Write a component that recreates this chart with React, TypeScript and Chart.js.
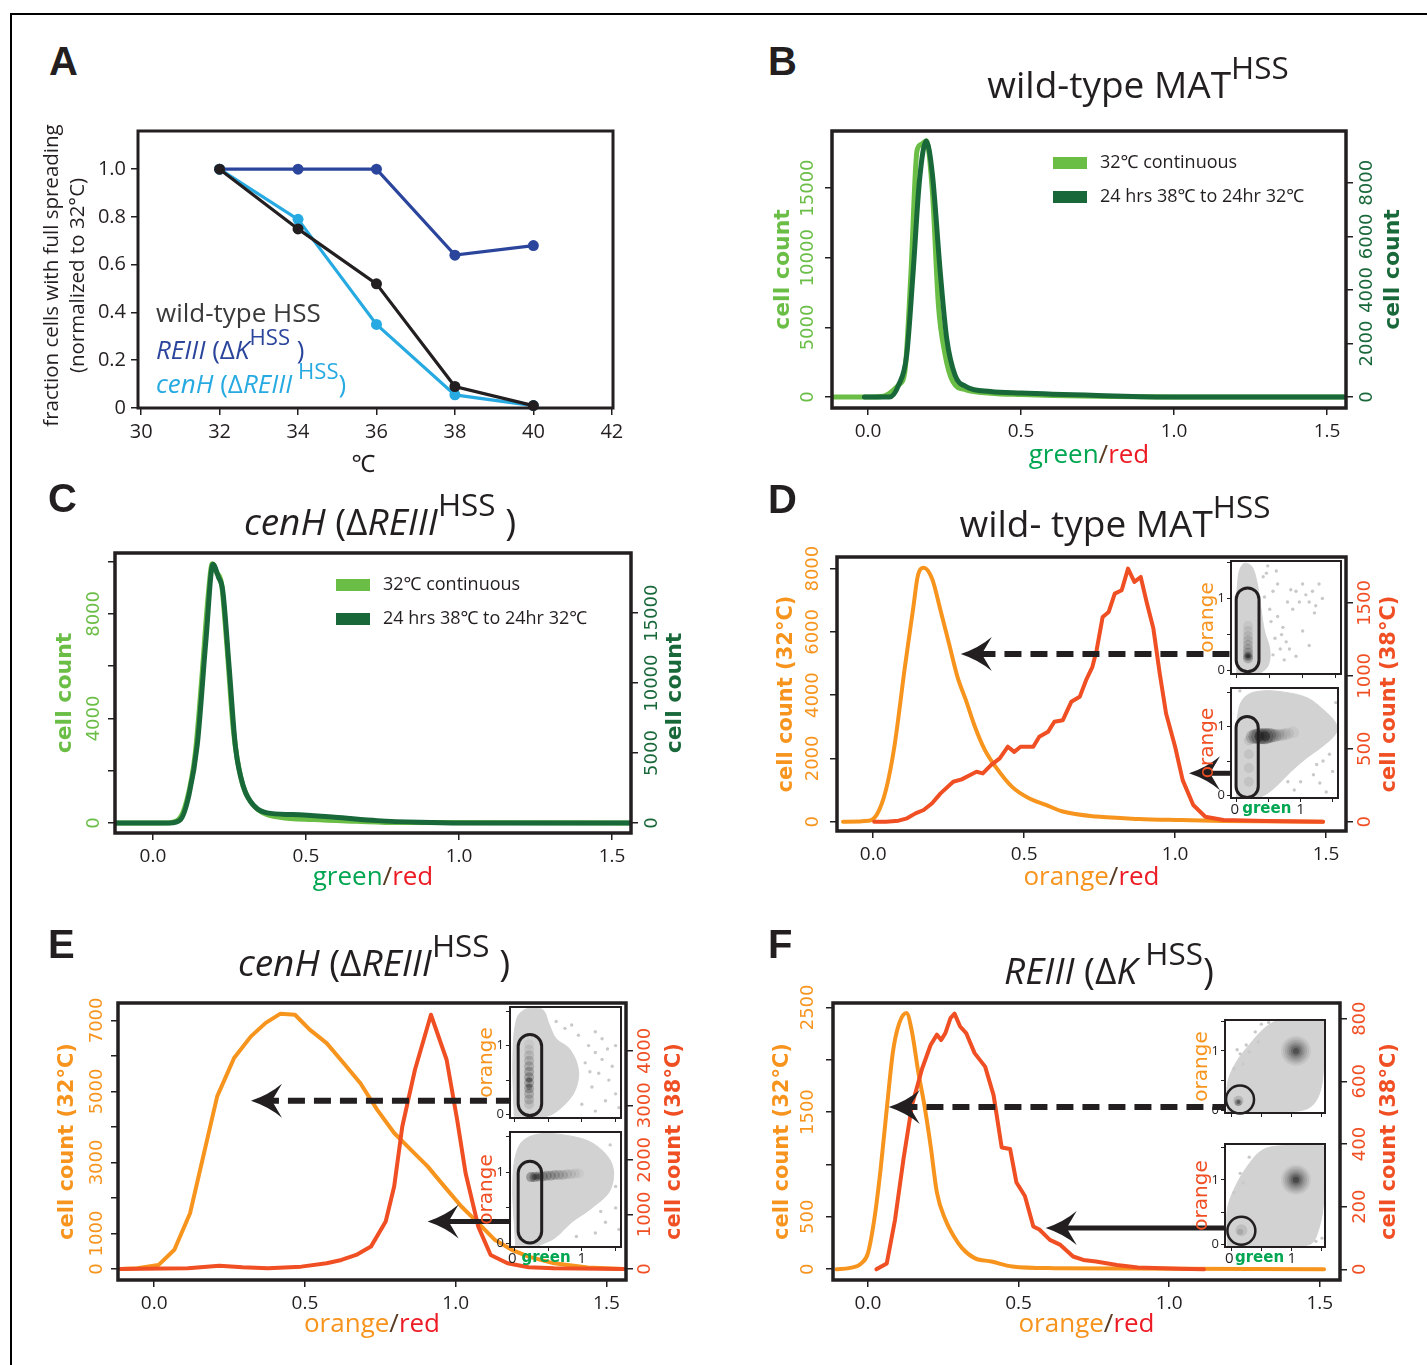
import React, { useEffect, useRef } from 'react';
import { Chart, registerables } from 'chart.js';

Chart.register(...registerables);

// ---------------- colours & fonts ----------------
const INK = '#231f20';
const LIGHT_GREEN = '#6abd45';
const DARK_GREEN = '#19683a';
const ORANGE = '#f7941d';
const RED_ORANGE = '#f04e23';
const TEXT_GREEN = '#00a651';
const TEXT_RED = '#ed1c24';
const A_BLUE = '#2b459c';
const A_CYAN = '#27aae1';
const CLOUD = '#d2d2d2';
const CLOUD_DOT = '#c9c9c9';
const SANS = '"Open Sans", "Noto Sans", sans-serif';
const WIDE = '"DejaVu Sans", sans-serif';

// ---------------- Panel A data ----------------
const A_TEMPS = [32, 34, 36, 38, 40];
const A_WILDTYPE = [1.0, 0.75, 0.52, 0.09, 0.01];
const A_REIII = [1.0, 1.0, 1.0, 0.64, 0.68];
const A_CENH = [1.0, 0.79, 0.35, 0.055, 0.01];
const A_X_TICKS = [30, 32, 34, 36, 38, 40, 42];
const A_X_LABELS = ['30', '32', '34', '36', '38', '40', '42'];
const A_Y_TICKS = [0, 0.2, 0.4, 0.6, 0.8, 1.0];
const A_Y_LABELS = ['0', '0.2', '0.4', '0.6', '0.8', '1.0'];

// ---------------- shared ratio axis ----------------
const RATIO_TICKS = [0, 0.5, 1.0, 1.5];
const RATIO_LABELS = ['0.0', '0.5', '1.0', '1.5'];

// ---------------- Panel B data ----------------
const B_LIGHT_X = [-0.118, 0.0, 0.05, 0.07, 0.1, 0.12, 0.14, 0.16, 0.175, 0.19, 0.21, 0.23, 0.25, 0.277, 0.32, 0.4, 0.5, 0.6, 0.8, 1.0, 1.562];
const B_LIGHT_Y = [0, 0, 60, 280, 875, 1820, 8900, 17700, 18150, 18400, 14800, 6550, 3240, 1110, 520, 280, 180, 120, 40, 0, 0];
const B_DARK_X = [-0.012, 0.07, 0.1, 0.126, 0.147, 0.168, 0.19, 0.21, 0.236, 0.257, 0.284, 0.32, 0.4, 0.5, 0.75, 1.0, 1.562];
const B_DARK_Y = [0, 0, 455, 1560, 4640, 8090, 9560, 8330, 4640, 2180, 825, 395, 210, 150, 60, 0, 0];
const B_LEFT_TICKS = [0, 5000, 10000, 15000];
const B_LEFT_LABELS = ['0', '5000', '10000', '15000'];
const B_RIGHT_TICKS = [0, 2000, 4000, 6000, 8000];
const B_RIGHT_LABELS = ['0', '2000', '4000', '6000', '8000'];

// ---------------- Panel C data ----------------
const C_LIGHT_X = [-0.124, 0.041, 0.083, 0.11, 0.138, 0.159, 0.18, 0.194, 0.207, 0.224, 0.242, 0.263, 0.29, 0.318, 0.36, 0.415, 0.525, 0.664, 0.8, 1.562];
const C_LIGHT_Y = [0, 0, 128, 832, 2624, 5440, 8640, 9920, 9600, 9150, 6720, 3520, 1600, 832, 384, 218, 128, 64, 13, 0];
const C_DARK_X = [-0.124, 0.055, 0.09, 0.118, 0.145, 0.173, 0.196, 0.214, 0.228, 0.249, 0.27, 0.297, 0.332, 0.373, 0.456, 0.594, 0.733, 0.871, 1.01, 1.562];
const C_DARK_Y = [0, 0, 240, 2033, 5622, 13038, 18493, 17584, 16627, 11124, 5383, 2512, 1196, 718, 598, 407, 167, 48, 0, 0];
const C_LEFT_TICKS = [0, 2000, 4000, 6000, 8000, 10000];
const C_LEFT_LABEL_VALUES = [0, 4000, 8000];
const C_LEFT_LABELS = ['0', '4000', '8000'];
const C_RIGHT_TICKS = [0, 5000, 10000, 15000];
const C_RIGHT_LABELS = ['0', '5000', '10000', '15000'];

// ---------------- Panel D data ----------------
const D_ORANGE_X = [-0.1, -0.014, 0.014, 0.042, 0.07, 0.105, 0.133, 0.147, 0.167, 0.195, 0.223, 0.251, 0.279, 0.307, 0.335, 0.37, 0.405, 0.46, 0.516, 0.572, 0.628, 0.74, 0.88, 1.02, 1.16, 1.49];
const D_ORANGE_Y = [0, 30, 260, 1000, 2370, 4900, 6790, 7740, 8030, 7680, 6680, 5630, 4580, 3840, 3050, 2260, 1740, 1100, 740, 530, 320, 160, 85, 50, 20, 0];
const D_RED_X = [0.003, 0.042, 0.084, 0.112, 0.14, 0.167, 0.195, 0.223, 0.265, 0.293, 0.321, 0.342, 0.363, 0.39, 0.419, 0.446, 0.467, 0.488, 0.53, 0.55, 0.579, 0.6, 0.628, 0.656, 0.684, 0.705, 0.726, 0.74, 0.76, 0.78, 0.8, 0.823, 0.844, 0.865, 0.886, 0.907, 0.928, 0.949, 0.97, 1.0, 1.025, 1.06, 1.1, 1.16, 1.3, 1.49];
const D_RED_Y = [0, 0, 7, 23, 57, 80, 126, 194, 274, 290, 320, 342, 331, 388, 434, 514, 479, 514, 514, 582, 616, 685, 696, 822, 856, 970, 1062, 1176, 1404, 1438, 1564, 1587, 1735, 1644, 1678, 1495, 1324, 1016, 742, 514, 285, 114, 34, 11, 5, 0];
const D_LEFT_TICKS = [0, 2000, 4000, 6000, 8000];
const D_LEFT_LABELS = ['0', '2000', '4000', '6000', '8000'];
const D_RIGHT_TICKS = [0, 500, 1000, 1500];
const D_RIGHT_LABELS = ['0', '500', '1000', '1500'];

// ---------------- Panel E data ----------------
const E_ORANGE_X = [-0.112, -0.056, 0.014, 0.067, 0.119, 0.16, 0.209, 0.265, 0.321, 0.37, 0.419, 0.467, 0.516, 0.572, 0.628, 0.684, 0.74, 0.796, 0.851, 0.907, 0.963, 1.019, 1.075, 1.13, 1.186, 1.242, 1.326, 1.438, 1.556];
const E_ORANGE_Y = [0, 20, 110, 540, 1570, 3070, 4860, 5940, 6550, 6930, 7190, 7160, 6740, 6360, 5800, 5230, 4480, 3830, 3360, 2890, 2320, 1760, 1290, 820, 540, 350, 160, 40, 0];
const E_RED_X = [-0.112, 0.112, 0.216, 0.293, 0.377, 0.488, 0.572, 0.621, 0.67, 0.719, 0.768, 0.796, 0.823, 0.865, 0.918, 0.97, 1.005, 1.033, 1.075, 1.116, 1.172, 1.242, 1.326, 1.556];
const E_RED_Y = [0, 12, 61, 31, 12, 43, 104, 165, 257, 410, 869, 1511, 2612, 3651, 4660, 3835, 2734, 1755, 777, 257, 104, 31, 12, 0];
const E_LEFT_TICKS = [0, 1000, 2000, 3000, 4000, 5000, 6000, 7000];
const E_LEFT_LABEL_VALUES = [0, 1000, 3000, 5000, 7000];
const E_LEFT_LABELS = ['0', '1000', '3000', '5000', '7000'];
const E_RIGHT_TICKS = [0, 1000, 2000, 3000, 4000];
const E_RIGHT_LABELS = ['0', '1000', '2000', '3000', '4000'];

// ---------------- Panel F data ----------------
const F_ORANGE_X = [-0.104, -0.0625, -0.021, 0.0, 0.021, 0.042, 0.0625, 0.083, 0.104, 0.128, 0.146, 0.167, 0.1875, 0.208, 0.229, 0.257, 0.285, 0.3125, 0.354, 0.41, 0.479, 0.618, 1.514];
const F_ORANGE_Y = [0, 10, 58, 154, 474, 955, 1532, 2077, 2349, 2446, 2269, 1885, 1564, 1179, 731, 474, 314, 202, 106, 74, 26, 10, 0];
const F_RED_X = [0.028, 0.0625, 0.09, 0.118, 0.146, 0.18, 0.208, 0.229, 0.243, 0.257, 0.274, 0.2875, 0.306, 0.326, 0.354, 0.389, 0.417, 0.444, 0.472, 0.493, 0.521, 0.549, 0.569, 0.604, 0.639, 0.681, 0.715, 0.757, 0.826, 0.896, 1.035, 1.115];
const F_RED_Y = [0, 19, 159, 352, 523, 641, 716, 749, 732, 754, 802, 816, 775, 754, 690, 647, 556, 389, 384, 277, 234, 137, 127, 94, 78, 41, 30, 25, 14, 6, 2, 0];
const F_LEFT_TICKS = [0, 500, 1000, 1500, 2000, 2500];
const F_LEFT_LABEL_VALUES = [0, 500, 1500, 2500];
const F_LEFT_LABELS = ['0', '500', '1500', '2500'];
const F_RIGHT_TICKS = [0, 200, 400, 600, 800];
const F_RIGHT_LABELS = ['0', '200', '400', '600', '800'];

// ---------------- inset (green vs orange) data ----------------
const INSET_TICKS = [0, 0.5, 1, 1.5];

const D_UP_CLOUD_X = [0.0, -0.01, 0.02, 0.1, 0.22, 0.3, 0.36, 0.42, 0.5, 0.48, 0.35, 0.15];
const D_UP_CLOUD_Y = [-0.03, 0.6, 1.3, 1.48, 1.45, 1.25, 0.9, 0.55, 0.3, 0.08, -0.03, -0.04];
const D_UP_DOT_X = [0.45, 0.6, 0.55, 0.42, 0.5, 0.62, 0.7, 0.58, 0.75, 0.66, 0.8, 0.55, 0.9, 1.0, 0.85, 0.95, 1.05, 1.1, 1.15, 1.2, 1.25, 1.0, 0.9, 1.3, 0.72, 0.68, 1.1, 0.62, 0.52, 0.82, 0.4, 0.47, 0.77, 1.18];
const D_UP_DOT_Y = [1.35, 1.38, 1.1, 1.02, 0.85, 0.75, 0.6, 0.45, 0.4, 0.3, 0.3, 0.22, 0.2, 0.55, 0.85, 0.95, 1.05, 0.95, 1.1, 0.9, 1.2, 1.2, 1.1, 1.0, 0.15, 0.5, 0.35, 1.2, 0.68, 1.12, 1.3, 1.45, 0.95, 0.8];
const D_UP_CORE_X = [0.17, 0.17, 0.17, 0.17, 0.17, 0.17, 0.17, 0.17, 0.17, 0.17, 0.17];
const D_UP_CORE_Y = [0.62, 0.55, 0.48, 0.42, 0.36, 0.3, 0.25, 0.2, 0.17, 0.2, 0.2];
const D_UP_CORE_R = [5, 5, 5, 5, 5, 5, 5, 5, 5, 3.5, 2];
const D_UP_CORE_A = [0.06, 0.08, 0.1, 0.12, 0.14, 0.16, 0.2, 0.22, 0.2, 0.35, 0.5];

const D_LO_CLOUD_X = [0.0, -0.02, 0.03, 0.15, 0.4, 0.75, 1.1, 1.35, 1.55, 1.55, 1.35, 1.1, 0.85, 0.6, 0.4, 0.2];
const D_LO_CLOUD_Y = [-0.03, 0.6, 1.25, 1.45, 1.52, 1.5, 1.42, 1.25, 1.05, 0.9, 0.72, 0.55, 0.35, 0.12, -0.01, -0.03];
const D_LO_DOT_X = [1.0, 1.2, 1.3, 1.45, 1.5, 1.4, 0.9, 1.55, 0.05, 1.25, 1.35, 0.8];
const D_LO_DOT_Y = [0.2, 0.3, 0.18, 0.6, 0.35, 0.05, 0.08, 1.35, 1.52, 0.45, 0.5, 0.2];
const D_LO_CORE_X = [0.25, 0.3, 0.35, 0.4, 0.45, 0.5, 0.55, 0.6, 0.65, 0.7, 0.75, 0.8, 0.88, 0.36, 0.44, 0.19, 0.19, 0.19, 0.19];
const D_LO_CORE_Y = [0.85, 0.86, 0.86, 0.86, 0.86, 0.87, 0.87, 0.87, 0.88, 0.88, 0.89, 0.9, 0.92, 0.86, 0.86, 0.2, 0.4, 0.6, 0.8];
const D_LO_CORE_R = [7, 7.5, 8, 8, 8, 7.5, 7, 6.5, 6, 6, 6, 6, 6, 5, 5, 5, 5, 5, 5];
const D_LO_CORE_A = [0.18, 0.24, 0.26, 0.28, 0.28, 0.24, 0.18, 0.14, 0.11, 0.09, 0.07, 0.06, 0.05, 0.35, 0.35, 0.08, 0.08, 0.08, 0.08];

const E_UP_CLOUD_X = [0.0, -0.02, 0.04, 0.2, 0.42, 0.52, 0.62, 0.82, 0.95, 0.9, 0.72, 0.5, 0.2];
const E_UP_CLOUD_Y = [-0.03, 0.8, 1.4, 1.54, 1.52, 1.3, 1.1, 0.95, 0.65, 0.35, 0.12, -0.02, -0.04];
const E_UP_DOT_X = [1.1, 1.2, 1.3, 1.25, 1.4, 1.5, 1.55, 1.35, 1.15, 1.05, 1.3, 1.2, 0.95, 1.45, 1.0, 1.2, 0.62, 0.75, 1.12, 1.38, 0.85, 1.5];
const E_UP_DOT_Y = [1.0, 0.9, 0.8, 0.6, 0.5, 0.3, 0.1, 0.2, 0.4, 0.75, 1.1, 1.2, 1.15, 0.7, 0.15, 0.05, 1.35, 1.25, 0.62, 0.95, 1.3, 1.0];
const E_UP_CORE_X = [0.22, 0.22, 0.22, 0.22, 0.22, 0.22, 0.22, 0.22, 0.22, 0.22, 0.22, 0.22, 0.22, 0.22];
const E_UP_CORE_Y = [0.15, 0.22, 0.3, 0.38, 0.46, 0.54, 0.62, 0.7, 0.78, 0.86, 0.94, 1.02, 0.4, 0.5];
const E_UP_CORE_R = [5, 5, 5, 5, 5, 5, 5, 5, 5, 5, 5, 5, 3, 3];
const E_UP_CORE_A = [0.1, 0.16, 0.2, 0.24, 0.26, 0.26, 0.24, 0.2, 0.16, 0.12, 0.08, 0.05, 0.3, 0.3];

const E_LO_CLOUD_X = [0.02, -0.02, 0.08, 0.35, 0.85, 1.2, 1.45, 1.42, 1.15, 0.85, 0.6, 0.35];
const E_LO_CLOUD_Y = [-0.03, 0.9, 1.38, 1.53, 1.5, 1.38, 1.1, 0.75, 0.5, 0.3, 0.08, -0.03];
const E_LO_DOT_X = [1.5, 1.55, 1.35, 1.2, 0.92, 1.42, 1.5, 1.28];
const E_LO_DOT_Y = [0.5, 0.2, 0.3, 0.15, 0.1, 1.38, 0.8, 0.45];
const E_LO_CORE_X = [0.25, 0.3, 0.36, 0.42, 0.48, 0.54, 0.6, 0.66, 0.72, 0.78, 0.84, 0.9, 0.96, 0.3, 0.36];
const E_LO_CORE_Y = [0.93, 0.93, 0.94, 0.94, 0.95, 0.95, 0.96, 0.96, 0.96, 0.97, 0.97, 0.98, 0.98, 0.93, 0.94];
const E_LO_CORE_R = [5, 5, 5, 5, 5, 5, 5, 5, 5, 5, 5, 5, 5, 3, 3];
const E_LO_CORE_A = [0.3, 0.3, 0.28, 0.26, 0.24, 0.22, 0.2, 0.17, 0.14, 0.11, 0.08, 0.06, 0.04, 0.35, 0.3];

const F_UP_CLOUD_X = [-0.06, -0.06, 0.08, 0.3, 0.55, 0.78, 1.0, 1.53, 1.53, 1.48, 1.3, 0.9, 0.4];
const F_UP_CLOUD_Y = [-0.03, 0.45, 0.8, 1.1, 1.38, 1.52, 1.53, 1.5, 0.9, 0.35, 0.05, -0.03, -0.04];
const F_UP_DOT_X = [0.05, 0.15, 0.25, 0.4, 0.5, 0.2, 0.1, 0.3, 0.45, 0.62];
const F_UP_DOT_Y = [0.7, 0.95, 1.1, 1.32, 1.45, 0.78, 1.02, 0.98, 1.15, 1.48];
const F_UP_CORE_X = [1.07, 1.07, 1.07, 1.07, 1.07, 1.07, 1.07, 0.12, 0.12, 0.12];
const F_UP_CORE_Y = [1.0, 1.0, 1.0, 1.0, 1.0, 1.0, 1.0, 0.16, 0.13, 0.14];
const F_UP_CORE_R = [15, 13, 11, 9, 7, 5, 3, 5, 3.5, 2];
const F_UP_CORE_A = [0.06, 0.08, 0.1, 0.12, 0.15, 0.2, 0.3, 0.15, 0.25, 0.4];

const F_LO_CLOUD_X = [-0.06, -0.06, 0.1, 0.3, 0.5, 0.75, 1.53, 1.53, 1.45, 1.3, 0.8, 0.3];
const F_LO_CLOUD_Y = [-0.03, 0.55, 0.95, 1.25, 1.45, 1.52, 1.52, 0.7, 0.25, 0.0, -0.03, -0.04];
const F_LO_DOT_X = [0.05, 0.15, 0.2, 0.3, 1.5, 1.4];
const F_LO_DOT_Y = [0.8, 1.1, 0.95, 1.35, 0.1, 0.05];
const F_LO_CORE_X = [1.07, 1.07, 1.07, 1.07, 1.07, 1.07, 1.07, 0.17, 0.15];
const F_LO_CORE_Y = [1.0, 1.0, 1.0, 1.0, 1.0, 1.0, 1.0, 0.22, 0.2];
const F_LO_CORE_R = [15, 13, 11, 9, 7, 5, 3, 6, 3];
const F_LO_CORE_A = [0.06, 0.09, 0.11, 0.13, 0.17, 0.22, 0.35, 0.1, 0.12];

// ---------------- helpers ----------------
const pts = (xs: number[], ys: number[]) => xs.map((x, i) => ({ x, y: ys[i] }));

function drawParts(ctx: any, parts: any[], x: number, y: number, font: string, angle: number, align: string) {
  ctx.save();
  ctx.translate(x, y);
  if (angle) ctx.rotate(angle);
  ctx.font = font;
  ctx.textBaseline = 'middle';
  ctx.textAlign = 'left';
  let total = 0;
  for (const p of parts) total += ctx.measureText(p.t).width;
  let cx = align === 'center' ? -total / 2 : align === 'right' ? -total : 0;
  for (const p of parts) {
    ctx.fillStyle = p.c;
    ctx.fillText(p.t, cx, 0);
    cx += ctx.measureText(p.t).width;
  }
  ctx.restore();
}

function makeDecor(spec: any) {
  return {
    id: 'decor',
    beforeDraw(chart: any) {
      if (!spec.bg) return;
      const { ctx, chartArea: a } = chart;
      ctx.save();
      ctx.fillStyle = spec.bg;
      ctx.fillRect(a.left, a.top, a.right - a.left, a.bottom - a.top);
      ctx.restore();
    },
    afterDatasetsDraw(chart: any) {
      const { ctx, scales } = chart;
      ctx.save();
      for (const g of spec.gates || []) {
        const sx = scales.x, sy = scales.y;
        ctx.strokeStyle = INK;
        ctx.lineWidth = g.w;
        ctx.beginPath();
        if (g.kind === 'pill') {
          const x0 = sx.getPixelForValue(g.x0), x1 = sx.getPixelForValue(g.x1);
          const yt = sy.getPixelForValue(g.y1), yb = sy.getPixelForValue(g.y0);
          ctx.roundRect(x0, yt, x1 - x0, yb - yt, (x1 - x0) / 2);
        } else {
          ctx.arc(sx.getPixelForValue(g.cx), sy.getPixelForValue(g.cy), g.r, 0, Math.PI * 2);
        }
        ctx.stroke();
      }
      for (const ar of spec.arrows || []) {
        const xs = scales.x.getPixelForValue(ar.x0);
        const xt = scales.x.getPixelForValue(ar.x1);
        const y = scales.yL.getPixelForValue(ar.y);
        ctx.strokeStyle = INK;
        ctx.fillStyle = INK;
        ctx.lineWidth = ar.w;
        ctx.setLineDash(ar.dashed ? [17, 9] : []);
        ctx.beginPath();
        ctx.moveTo(xs, y);
        ctx.lineTo(xt + 20, y);
        ctx.stroke();
        ctx.setLineDash([]);
        ctx.beginPath();
        ctx.moveTo(xt, y);
        ctx.quadraticCurveTo(xt + 18, y - 6, xt + 31, y - 17);
        ctx.lineTo(xt + 21, y);
        ctx.lineTo(xt + 31, y + 17);
        ctx.quadraticCurveTo(xt + 18, y + 6, xt, y);
        ctx.closePath();
        ctx.fill();
      }
      ctx.restore();
    },
    afterDraw(chart: any) {
      const { ctx, chartArea: a, scales } = chart;
      if (spec.frame) {
        ctx.save();
        ctx.strokeStyle = INK;
        ctx.lineWidth = spec.frame;
        ctx.strokeRect(a.left, a.top, a.right - a.left, a.bottom - a.top);
        ctx.restore();
      }
      for (const l of spec.yLabels || []) {
        const s = scales[l.axis];
        l.values.forEach((v: number, i: number) => {
          const y = s.getPixelForValue(v);
          const x = l.side === 'left' ? a.left - l.off : a.right + l.off;
          drawParts(ctx, [{ t: l.labels[i], c: l.color }], x, y, l.font, l.rot ? -Math.PI / 2 : 0, l.rot ? 'center' : l.align || 'right');
        });
      }
      for (const l of spec.xLabels || []) {
        const x = scales.x.getPixelForValue(l.v);
        drawParts(ctx, [{ t: l.t, c: l.c }], x, a.bottom + l.off, l.font, 0, 'center');
      }
      for (const t of spec.titles || []) {
        let x = 0, y = 0, ang = 0;
        if (t.side === 'left') { x = a.left - t.off; y = (a.top + a.bottom) / 2 + (t.dy || 0); ang = -Math.PI / 2; }
        else if (t.side === 'right') { x = a.right + t.off; y = (a.top + a.bottom) / 2 + (t.dy || 0); ang = -Math.PI / 2; }
        else { x = (a.left + a.right) / 2 + (t.dx || 0); y = a.bottom + t.off; }
        drawParts(ctx, t.parts, x, y, t.font, ang, 'center');
      }
      if (spec.legend) {
        const L = spec.legend;
        L.rows.forEach((r: any, i: number) => {
          const y = a.top + L.dy + i * L.gap;
          ctx.save();
          ctx.fillStyle = r.color;
          ctx.fillRect(a.left + L.dx, y - L.h / 2, L.w, L.h);
          ctx.restore();
          drawParts(ctx, [{ t: r.label, c: INK }], a.left + L.dx + L.w + L.tx, y, L.font, 0, 'left');
        });
      }
    },
  };
}

function tickAxis(pos: string, min: number, max: number, ticks: number[], size: number, tl: number, lw: number, extra: any = {}) {
  const horiz = pos === 'bottom';
  return {
    type: 'linear',
    position: pos,
    min,
    max,
    afterBuildTicks: (s: any) => { s.ticks = ticks.map((v) => ({ value: v })); },
    afterFit: (s: any) => { if (horiz) s.height = size; else s.width = size; },
    ticks: { display: false },
    grid: { drawOnChartArea: false, drawTicks: true, tickLength: tl, color: INK, lineWidth: lw },
    border: { display: false },
    ...extra,
  };
}

function tickLabelOpts(ticks: number[], labels: string[], size: number, pad: number) {
  return {
    display: true,
    autoSkip: false,
    maxRotation: 0,
    minRotation: 0,
    padding: pad,
    color: INK,
    font: { family: 'Open Sans', size },
    callback: (v: number) => {
      const i = ticks.indexOf(v);
      return i >= 0 ? labels[i] : '';
    },
  };
}

// ---------------- component that hosts one chart ----------------
function ChartCanvas({ left, top, width, height, make }: any) {
  const ref = useRef<HTMLCanvasElement | null>(null);
  useEffect(() => {
    const chart = new Chart(ref.current as any, make());
    return () => chart.destroy();
  }, []);
  return <canvas ref={ref} width={width} height={height} style={{ position: 'absolute', left, top, width, height }} />;
}

// ---------------- Panel A ----------------
const A_BOX = { l: 138, t: 131, r: 613, b: 408 };
const A_PAD = { L: 110, R: 20, T: 30, B: 70 };

function makeA() {
  const ds = (label: string, ys: number[], color: string) => ({
    label,
    data: pts(A_TEMPS, ys),
    borderColor: color,
    backgroundColor: color,
    pointBackgroundColor: color,
    pointBorderColor: color,
    pointRadius: 5.5,
    pointBorderWidth: 0,
    borderWidth: 3.2,
    tension: 0,
    clip: false,
  });
  return {
    type: 'line',
    data: {
      datasets: [ds('wild-type HSS', A_WILDTYPE, INK), ds('cenH', A_CENH, A_CYAN), ds('REIII', A_REIII, A_BLUE)],
    },
    options: {
      responsive: false,
      animation: false,
      devicePixelRatio: 1,
      layout: { padding: { top: A_PAD.T, left: 0, right: A_PAD.R, bottom: 0 } },
      plugins: { legend: { display: false }, tooltip: { enabled: false } },
      scales: {
        x: tickAxis('bottom', 29.92, 42.03, A_X_TICKS, A_PAD.B, 7, 1.5, { ticks: tickLabelOpts(A_X_TICKS, A_X_LABELS, 20, 5) }),
        y: tickAxis('left', 0, 1.16, A_Y_TICKS, A_PAD.L, 7, 1.5, { ticks: tickLabelOpts(A_Y_TICKS, A_Y_LABELS, 20, 5) }),
      },
    },
    plugins: [
      makeDecor({
        frame: 3,
        titles: [
          { side: 'left', off: 86, dy: 6, font: `20.5px ${SANS}`, parts: [{ t: 'fraction cells with full spreading', c: INK }] },
          { side: 'left', off: 60, dy: 6, font: `20.5px ${SANS}`, parts: [{ t: '(normalized to 32°C)', c: INK }] },
          { side: 'bottom', off: 57, dx: -12, font: `24px ${SANS}`, parts: [{ t: '℃', c: INK }] },
        ],
      }),
    ],
  };
}

// ---------------- histogram panels ----------------
const HIST_PAD = { L: 110, R: 90, T: 40, B: 70 };

const greenRed = [{ t: 'green', c: TEXT_GREEN }, { t: '/', c: '#5a3b22' }, { t: 'red', c: TEXT_RED }];
const orangeRed = [{ t: 'orange', c: ORANGE }, { t: '/', c: '#5a3b22' }, { t: 'red', c: TEXT_RED }];

const PANEL_B = {
  box: { l: 832, t: 131, r: 1346, b: 408 },
  x: [-0.118, 1.562],
  left: { min: -781, max: 19096, ticks: B_LEFT_TICKS, labelValues: B_LEFT_TICKS, labels: B_LEFT_LABELS, color: LIGHT_GREEN, title: 'cell count', labelOff: 24, titleOff: 49 },
  right: { min: -406, max: 9932, ticks: B_RIGHT_TICKS, labelValues: B_RIGHT_TICKS, labels: B_RIGHT_LABELS, color: DARK_GREEN, title: 'cell count', labelOff: 21, titleOff: 47 },
  titleFont: `bold 22px ${WIDE}`,
  series: [
    { xs: B_DARK_X, ys: B_DARK_Y, axis: 'yR', color: DARK_GREEN, width: 5, smooth: true },
    { xs: B_LIGHT_X, ys: B_LIGHT_Y, axis: 'yL', color: LIGHT_GREEN, width: 5, smooth: true },
  ],
  xTitle: greenRed,
  xTitleOff: 48,
  legend: true,
  arrows: [],
};

const PANEL_C = {
  box: { l: 115, t: 553, r: 631, b: 833 },
  x: [-0.124, 1.562],
  left: { min: -384, max: 10330, ticks: C_LEFT_TICKS, labelValues: C_LEFT_LABEL_VALUES, labels: C_LEFT_LABELS, color: LIGHT_GREEN, title: 'cell count', labelOff: 21, titleOff: 50 },
  right: { min: -718, max: 19306, ticks: C_RIGHT_TICKS, labelValues: C_RIGHT_TICKS, labels: C_RIGHT_LABELS, color: DARK_GREEN, title: 'cell count', labelOff: 21, titleOff: 44 },
  titleFont: `bold 22px ${WIDE}`,
  series: [
    { xs: C_DARK_X, ys: C_DARK_Y, axis: 'yR', color: DARK_GREEN, width: 5, smooth: true },
    { xs: C_LIGHT_X, ys: C_LIGHT_Y, axis: 'yL', color: LIGHT_GREEN, width: 5, smooth: true },
  ],
  xTitle: greenRed,
  xTitleOff: 45,
  legend: true,
  arrows: [],
};

const PANEL_D = {
  box: { l: 837, t: 557, r: 1346, b: 831 },
  x: [-0.12, 1.566],
  left: { min: -295, max: 8368, ticks: D_LEFT_TICKS, labelValues: D_LEFT_TICKS, labels: D_LEFT_LABELS, color: ORANGE, title: 'cell count (32°C)', labelOff: 24, titleOff: 50 },
  right: { min: -64, max: 1815, ticks: D_RIGHT_TICKS, labelValues: D_RIGHT_TICKS, labels: D_RIGHT_LABELS, color: RED_ORANGE, title: 'cell count (38°C)', labelOff: 19, titleOff: 44 },
  titleFont: `bold 21px ${WIDE}`,
  series: [
    { xs: D_RED_X, ys: D_RED_Y, axis: 'yR', color: RED_ORANGE, width: 4, smooth: false },
    { xs: D_ORANGE_X, ys: D_ORANGE_Y, axis: 'yL', color: ORANGE, width: 4, smooth: true },
  ],
  xTitle: orangeRed,
  xTitleOff: 47,
  legend: false,
  arrows: [
    { x0: 1.18, x1: 0.29, y: 5300, dashed: true, w: 6 },
    { x0: 1.19, x1: 1.046, y: 1530, dashed: false, w: 5 },
  ],
};

const PANEL_E = {
  box: { l: 118, t: 1003, r: 626, b: 1280 },
  x: [-0.12, 1.565],
  left: { min: -310, max: 7490, ticks: E_LEFT_TICKS, labelValues: E_LEFT_LABEL_VALUES, labels: E_LEFT_LABELS, color: ORANGE, title: 'cell count (32°C)', labelOff: 21, titleOff: 50 },
  right: { min: -202, max: 4875, ticks: E_RIGHT_TICKS, labelValues: E_RIGHT_TICKS, labels: E_RIGHT_LABELS, color: RED_ORANGE, title: 'cell count (38°C)', labelOff: 19, titleOff: 49 },
  titleFont: `bold 21px ${WIDE}`,
  series: [
    { xs: E_RED_X, ys: E_RED_Y, axis: 'yR', color: RED_ORANGE, width: 4, smooth: false },
    { xs: E_ORANGE_X, ys: E_ORANGE_Y, axis: 'yL', color: ORANGE, width: 4, smooth: false },
  ],
  xTitle: orangeRed,
  xTitleOff: 45,
  legend: false,
  arrows: [
    { x0: 1.19, x1: 0.321, y: 4737, dashed: true, w: 6 },
    { x0: 1.19, x1: 0.907, y: 1335, dashed: false, w: 5 },
  ],
};

const PANEL_F = {
  box: { l: 833, t: 1003, r: 1340, b: 1280 },
  x: [-0.116, 1.567],
  left: { min: -103, max: 2542, ticks: F_LEFT_TICKS, labelValues: F_LEFT_LABEL_VALUES, labels: F_LEFT_LABELS, color: ORANGE, title: 'cell count (32°C)', labelOff: 25, titleOff: 50 },
  right: { min: -34, max: 850, ticks: F_RIGHT_TICKS, labelValues: F_RIGHT_TICKS, labels: F_RIGHT_LABELS, color: RED_ORANGE, title: 'cell count (38°C)', labelOff: 20, titleOff: 50 },
  titleFont: `bold 21px ${WIDE}`,
  series: [
    { xs: F_RED_X, ys: F_RED_Y, axis: 'yR', color: RED_ORANGE, width: 4, smooth: false },
    { xs: F_ORANGE_X, ys: F_ORANGE_Y, axis: 'yL', color: ORANGE, width: 4, smooth: true },
  ],
  xTitle: orangeRed,
  xTitleOff: 45,
  legend: false,
  arrows: [
    { x0: 1.2, x1: 0.069, y: 1548, dashed: true, w: 6 },
    { x0: 1.2, x1: 0.59, y: 394, dashed: false, w: 5 },
  ],
};

function makeHist(p: any) {
  const P = HIST_PAD;
  return () => ({
    type: 'line',
    data: {
      datasets: p.series.map((s: any) => ({
        data: pts(s.xs, s.ys),
        yAxisID: s.axis,
        borderColor: s.color,
        backgroundColor: s.color,
        borderWidth: s.width,
        pointRadius: 0,
        fill: false,
        tension: 0,
        cubicInterpolationMode: s.smooth ? 'monotone' : 'default',
        borderJoinStyle: 'round',
        borderCapStyle: 'round',
      })),
    },
    options: {
      responsive: false,
      animation: false,
      devicePixelRatio: 1,
      layout: { padding: { top: P.T, left: 0, right: 0, bottom: 0 } },
      plugins: { legend: { display: false }, tooltip: { enabled: false } },
      scales: {
        x: tickAxis('bottom', p.x[0], p.x[1], RATIO_TICKS, P.B, 7, 1.5, { ticks: tickLabelOpts(RATIO_TICKS, RATIO_LABELS, 19, 5) }),
        yL: tickAxis('left', p.left.min, p.left.max, p.left.ticks, P.L, 7, 1.5),
        yR: tickAxis('right', p.right.min, p.right.max, p.right.ticks, P.R, 7, 1.5),
      },
    },
    plugins: [
      makeDecor({
        frame: 3.5,
        arrows: p.arrows,
        yLabels: [
          { axis: 'yL', side: 'left', off: p.left.labelOff, values: p.left.labelValues, labels: p.left.labels, color: p.left.color, font: `18px ${WIDE}`, rot: true },
          { axis: 'yR', side: 'right', off: p.right.labelOff, values: p.right.labelValues, labels: p.right.labels, color: p.right.color, font: `18px ${WIDE}`, rot: true },
        ],
        titles: [
          { side: 'left', off: p.left.titleOff, font: p.titleFont, parts: [{ t: p.left.title, c: p.left.color }] },
          { side: 'right', off: p.right.titleOff, font: p.titleFont, parts: [{ t: p.right.title, c: p.right.color }] },
          { side: 'bottom', off: p.xTitleOff, font: `26px ${SANS}`, parts: p.xTitle },
        ],
        legend: p.legend
          ? {
              dx: 221, dy: 32, gap: 34, w: 34, h: 12, tx: 13, font: `18px ${SANS}`,
              rows: [
                { color: LIGHT_GREEN, label: '32℃ continuous' },
                { color: DARK_GREEN, label: '24 hrs 38℃ to 24hr 32℃' },
              ],
            }
          : null,
      }),
    ],
  });
}

// ---------------- insets ----------------
const INSET_PAD = { L: 40, R: 3, T: 3 };

const INSETS = [
  { box: { l: 1231, t: 559, r: 1343, b: 674 }, x: [-0.089, 1.584], y: [-0.045, 1.518], lower: false, titleColor: ORANGE,
    cloudX: D_UP_CLOUD_X, cloudY: D_UP_CLOUD_Y, dotX: D_UP_DOT_X, dotY: D_UP_DOT_Y, coreX: D_UP_CORE_X, coreY: D_UP_CORE_Y, coreR: D_UP_CORE_R, coreA: D_UP_CORE_A,
    gate: { kind: 'pill', x0: -0.01, x1: 0.337, y0: -0.014, y1: 1.145, w: 3 } },
  { box: { l: 1231, t: 683, r: 1343, b: 798 }, x: [-0.089, 1.584], y: [-0.037, 1.562], lower: true, titleColor: RED_ORANGE,
    cloudX: D_LO_CLOUD_X, cloudY: D_LO_CLOUD_Y, dotX: D_LO_DOT_X, dotY: D_LO_DOT_Y, coreX: D_LO_CORE_X, coreY: D_LO_CORE_Y, coreR: D_LO_CORE_R, coreA: D_LO_CORE_A,
    gate: { kind: 'pill', x0: -0.01, x1: 0.337, y0: -0.03, y1: 1.147, w: 3 } },
  { box: { l: 510, t: 1005, r: 623, b: 1118 }, x: [-0.063, 1.58], y: [-0.05, 1.56], lower: false, titleColor: ORANGE,
    cloudX: E_UP_CLOUD_X, cloudY: E_UP_CLOUD_Y, dotX: E_UP_DOT_X, dotY: E_UP_DOT_Y, coreX: E_UP_CORE_X, coreY: E_UP_CORE_Y, coreR: E_UP_CORE_R, coreA: E_UP_CORE_A,
    gate: { kind: 'pill', x0: 0.058, x1: 0.406, y0: -0.014, y1: 1.16, w: 3 } },
  { box: { l: 510, t: 1130, r: 623, b: 1247 }, x: [-0.063, 1.58], y: [-0.046, 1.56], lower: true, titleColor: RED_ORANGE,
    cloudX: E_LO_CLOUD_X, cloudY: E_LO_CLOUD_Y, dotX: E_LO_DOT_X, dotY: E_LO_DOT_Y, coreX: E_LO_CORE_X, coreY: E_LO_CORE_Y, coreR: E_LO_CORE_R, coreA: E_LO_CORE_A,
    gate: { kind: 'pill', x0: 0.058, x1: 0.406, y0: 0.01, y1: 1.15, w: 3 } },
  { box: { l: 1225, t: 1008, r: 1337, b: 1122 }, x: [-0.1, 1.55], y: [-0.046, 1.52], lower: false, titleColor: ORANGE,
    cloudX: F_UP_CLOUD_X, cloudY: F_UP_CLOUD_Y, dotX: F_UP_DOT_X, dotY: F_UP_DOT_Y, coreX: F_UP_CORE_X, coreY: F_UP_CORE_Y, coreR: F_UP_CORE_R, coreA: F_UP_CORE_A,
    gate: { kind: 'circle', cx: 0.148, cy: 0.18, r: 14, w: 2.5 } },
  { box: { l: 1225, t: 1132, r: 1337, b: 1247 }, x: [-0.1, 1.55], y: [-0.037, 1.553], lower: true, titleColor: RED_ORANGE,
    cloudX: F_LO_CLOUD_X, cloudY: F_LO_CLOUD_Y, dotX: F_LO_DOT_X, dotY: F_LO_DOT_Y, coreX: F_LO_CORE_X, coreY: F_LO_CORE_Y, coreR: F_LO_CORE_R, coreA: F_LO_CORE_A,
    gate: { kind: 'circle', cx: 0.17, cy: 0.215, r: 14, w: 2.5 } },
];

const insetBottom = (p: any) => (p.lower ? 26 : 6);

function makeInset(p: any) {
  const P = INSET_PAD;
  const B = insetBottom(p);
  return () => ({
    type: 'scatter',
    data: {
      datasets: [
        {
          type: 'scatter',
          data: pts(p.coreX, p.coreY),
          pointRadius: p.coreR,
          pointBackgroundColor: p.coreA.map((a: number) => `rgba(20,20,20,${a})`),
          pointBorderWidth: 0,
        },
        {
          type: 'scatter',
          data: pts(p.dotX, p.dotY),
          pointRadius: 1.7,
          pointBackgroundColor: CLOUD_DOT,
          pointBorderWidth: 0,
        },
        {
          type: 'line',
          data: pts(p.cloudX, p.cloudY),
          showLine: true,
          fill: 'shape',
          backgroundColor: CLOUD,
          borderColor: CLOUD,
          borderWidth: 1,
          pointRadius: 0,
          tension: 0.35,
        },
      ],
    },
    options: {
      responsive: false,
      animation: false,
      devicePixelRatio: 1,
      layout: { padding: { top: P.T, left: 0, right: 0, bottom: 0 } },
      plugins: { legend: { display: false }, tooltip: { enabled: false } },
      scales: {
        x: tickAxis('bottom', p.x[0], p.x[1], INSET_TICKS, B, 4, 1),
        y: tickAxis('left', p.y[0], p.y[1], INSET_TICKS, P.L, 4, 1),
      },
    },
    plugins: [
      makeDecor({
        bg: '#ffffff',
        frame: 2,
        gates: [p.gate],
        yLabels: [
          { axis: 'y', side: 'left', off: 6, values: [0, 1], labels: ['0', '1'], color: INK, font: `13px ${SANS}`, rot: false, align: 'right' },
        ],
        xLabels: p.lower
          ? [
              { v: -0.03, t: '0', c: INK, font: `15px ${SANS}`, off: 12 },
              { v: 1, t: '1', c: INK, font: `15px ${SANS}`, off: 12 },
              { v: 0.47, t: 'green', c: TEXT_GREEN, font: `bold 15px ${WIDE}`, off: 11 },
            ]
          : [],
        titles: [{ side: 'left', off: 23, font: `20px ${WIDE}`, parts: [{ t: 'orange', c: p.titleColor }] }],
      }),
    ],
  });
}

// ---------------- HTML text ----------------
function Letter({ t, x, y }: any) {
  const size = 40;
  return (
    <div style={{ position: 'absolute', left: x, top: y - 0.13 * size, fontFamily: '"Liberation Sans", Arial, sans-serif', fontWeight: 700, fontSize: size, lineHeight: 1, color: INK }}>
      {t}
    </div>
  );
}

function RichText({ cx, left, base, size, color, parts }: any) {
  const style: any = {
    position: 'absolute',
    top: base - 0.888 * size,
    fontFamily: SANS,
    fontSize: size,
    lineHeight: 1,
    color,
    whiteSpace: 'pre',
  };
  if (cx != null) {
    style.left = cx - 400;
    style.width = 800;
    style.textAlign = 'center';
  } else {
    style.left = left;
  }
  return (
    <div style={style}>
      {parts.map((p: any, i: number) =>
        p.sup ? (
          <span key={i} style={{ fontSize: '0.85em', position: 'relative', top: '-0.62em' }}>{p.t}</span>
        ) : p.it ? (
          <i key={i}>{p.t}</i>
        ) : (
          <span key={i}>{p.t}</span>
        )
      )}
    </div>
  );
}

const TITLE_B = [{ t: 'wild-type MAT' }, { t: 'HSS', sup: true }];
const TITLE_C = [{ t: 'cenH', it: true }, { t: ' (Δ' }, { t: 'REIII', it: true }, { t: 'HSS', sup: true }, { t: ' )' }];
const TITLE_D = [{ t: 'wild- type MAT' }, { t: 'HSS', sup: true }];
const TITLE_F = [{ t: 'REIII', it: true }, { t: ' (Δ' }, { t: 'K', it: true }, { t: ' HSS', sup: true }, { t: ')' }];

const box = (b: any, P: any, B: number) => ({
  left: b.l - P.L,
  top: b.t - P.T,
  width: b.r - b.l + P.L + P.R,
  height: b.b - b.t + P.T + B,
});

export default function App() {
  const hist = [PANEL_B, PANEL_C, PANEL_D, PANEL_E, PANEL_F];
  return (
    <div style={{ position: 'absolute', left: 0, top: 0, width: 1427, height: 1365, background: '#fff', overflow: 'hidden' }}>
      <div style={{ position: 'absolute', left: 10, top: 13, width: 1430, height: 1400, borderTop: '2px solid #000', borderLeft: '2px solid #000' }} />

      <ChartCanvas {...box(A_BOX, A_PAD, A_PAD.B)} make={makeA} />
      {hist.map((p, i) => (
        <ChartCanvas key={'h' + i} {...box(p.box, HIST_PAD, HIST_PAD.B)} make={makeHist(p)} />
      ))}
      {INSETS.map((p, i) => (
        <ChartCanvas key={'i' + i} {...box(p.box, INSET_PAD, insetBottom(p))} make={makeInset(p)} />
      ))}

      <Letter t="A" x={49} y={46} />
      <Letter t="B" x={768} y={46} />
      <Letter t="C" x={48} y={483} />
      <Letter t="D" x={768} y={484} />
      <Letter t="E" x={48} y={929} />
      <Letter t="F" x={768} y={929} />

      <RichText cx={1138} base={98} size={37} color={INK} parts={TITLE_B} />
      <RichText cx={380} base={535} size={37} color={INK} parts={TITLE_C} />
      <RichText cx={1115} base={537} size={37} color={INK} parts={TITLE_D} />
      <RichText cx={374} base={976} size={37} color={INK} parts={TITLE_C} />
      <RichText cx={1109} base={984} size={37} color={INK} parts={TITLE_F} />

      <RichText left={156} base={322} size={26} color="#3a3a3a" parts={[{ t: 'wild-type HSS' }]} />
      <RichText left={156} base={359} size={26} color={A_BLUE} parts={[{ t: 'REIII', it: true }, { t: ' (Δ' }, { t: 'K', it: true }, { t: 'HSS', sup: true }, { t: ' )' }]} />
      <RichText left={156} base={393} size={26} color={A_CYAN} parts={[{ t: 'cenH', it: true }, { t: ' (Δ' }, { t: 'REIII', it: true }, { t: ' HSS', sup: true }, { t: ')' }]} />
    </div>
  );
}
